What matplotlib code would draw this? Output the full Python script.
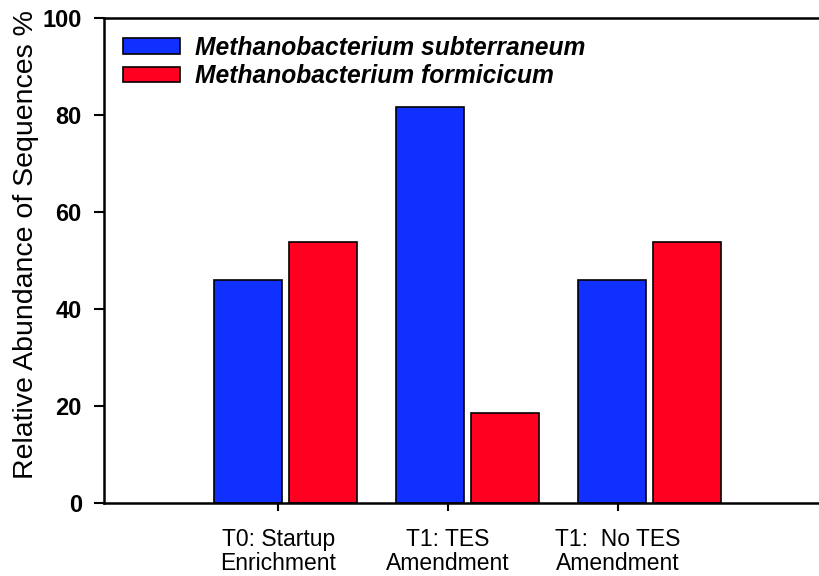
import matplotlib
matplotlib.use("Agg")
import matplotlib.pyplot as plt
import numpy as np
from matplotlib.patches import Patch

plt.rcParams['font.family'] = ['Liberation Sans', 'DejaVu Sans']

categories = ["T0: Startup\nEnrichment", "T1: TES\nAmendment", "T1:  No TES\nAmendment"]
series_names = ["Methanobacterium subterraneum", "Methanobacterium formicicum"]
subterraneum = [46.0, 81.6, 46.0]
formicicum = [53.8, 18.6, 53.9]
colors = ["#1030FF", "#FF0020"]

fig = plt.figure(figsize=(8.2, 5.76), dpi=100)
ax = fig.add_axes([104/820, 1-503/576, (820-104)/820, (503-18)/576])

x = np.arange(len(categories))
w = 0.374
gap = 0.04
ax.bar(x - (w + gap)/2, subterraneum, w, color=colors[0], edgecolor='black', linewidth=1.2)
ax.bar(x + (w + gap)/2, formicicum, w, color=colors[1], edgecolor='black', linewidth=1.2)

ax.set_xlim(-0.997, 2.937)
ax.set_ylim(0, 100)
ax.set_yticks([0, 20, 40, 60, 80, 100])
ax.set_xticks(x - 0.04 - 0.066 * x)
ax.set_xticklabels(categories, fontsize=16.5, linespacing=1.08)
for lab in ax.get_yticklabels():
    lab.set_fontweight('bold')
    lab.set_fontsize(17)
ax.tick_params(axis='y', direction='out', length=7, width=1.5, pad=9)
ax.tick_params(axis='x', direction='out', length=6, width=1.5, pad=12)
ax.spines['right'].set_visible(False)
for s in ['left', 'bottom', 'top']:
    ax.spines[s].set_linewidth(1.8)
ax.set_ylabel("Relative Abundance of Sequences %", fontsize=20.5)
ax.yaxis.set_label_coords(-0.0908, 0.532)

handles = [Patch(facecolor=colors[i], edgecolor='black', linewidth=1.2, label=series_names[i]) for i in range(2)]
leg = ax.legend(handles=handles, loc='upper left', bbox_to_anchor=(0.0265, 0.963), frameon=False,
                borderpad=0, borderaxespad=0,
                prop={'weight': 'bold', 'style': 'italic', 'size': 17.7},
                handlelength=2.32, handleheight=0.62, handletextpad=0.6, labelspacing=0.17)

fig.savefig("out.png", dpi=100)
